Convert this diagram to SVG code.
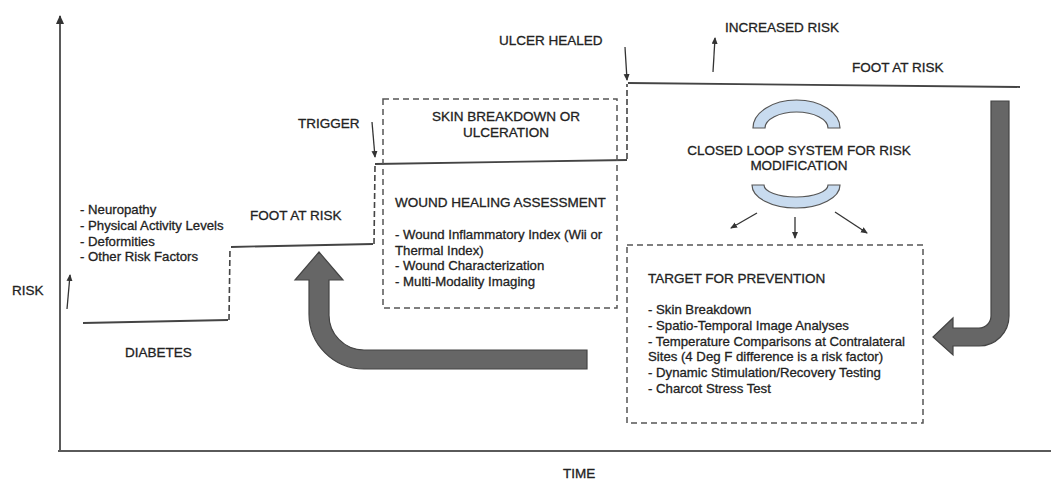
<svg xmlns="http://www.w3.org/2000/svg" width="1051" height="479" viewBox="0 0 1051 479">
<style>
  text { font-family: "Liberation Sans", Arial, sans-serif; fill: #222; stroke: #222; stroke-width: 0.3; }
  .t { font-size: 13.5px; }
  .l { font-size: 13.2px; }
  .axis { stroke: #5a5a5a; stroke-width: 2; fill: none; }
  .step { stroke: #444; stroke-width: 1.8; fill: none; }
  .stepd { stroke: #444; stroke-width: 1.6; fill: none; stroke-dasharray: 6,3; }
  .box { stroke: #555; stroke-width: 1.5; fill: none; stroke-dasharray: 6,4; }
  .thin { stroke: #333; stroke-width: 1.3; fill: none; marker-end: url(#ah); }
  .big { fill: #666; stroke: #444; stroke-width: 1.2; }
  .arc { fill: #c8dbef; stroke: #555; stroke-width: 1.2; }
</style>
<defs>
  <marker id="ah" markerWidth="8" markerHeight="8" refX="6" refY="3" orient="auto" markerUnits="userSpaceOnUse">
    <path d="M0,0 L7,3 L0,6 Z" fill="#333"/>
  </marker>
  <marker id="axh" markerWidth="10" markerHeight="10" refX="8" refY="4" orient="auto" markerUnits="userSpaceOnUse">
    <path d="M0,0 L9,4 L0,8 Z" fill="#333"/>
  </marker>
</defs>
<rect width="1051" height="479" fill="#ffffff"/>

<g id="axes">
  <line class="axis" x1="60" y1="451" x2="60" y2="16" marker-end="url(#axh)"/>
  <line class="axis" x1="58" y1="451" x2="1051" y2="451"/>
  <text class="t" x="12" y="295">RISK</text>
  <text class="t" x="563" y="478">TIME</text>
</g>

<g id="connectors">
  <path class="step" d="M83,323 L228,320"/>
  <path class="stepd" d="M229,320 L230,248"/>
  <path class="step" d="M231,247 L373,244"/>
  <path class="stepd" d="M374,244 L375,166"/>
  <path class="step" d="M375,164 L627,160"/>
  <path class="stepd" d="M627,159 L627,84"/>
  <path class="step" d="M628,83 L1020,87"/>
  <line class="thin" x1="67" y1="309" x2="70" y2="275"/>
  <line class="thin" x1="372" y1="122" x2="375" y2="157"/>
  <line class="thin" x1="625" y1="47" x2="627" y2="80"/>
  <line class="thin" x1="713" y1="72" x2="715" y2="38"/>
  <line class="thin" x1="757" y1="213" x2="731" y2="228"/>
  <line class="thin" x1="795" y1="217" x2="795" y2="238"/>
  <line class="thin" x1="835" y1="212" x2="867" y2="233"/>
  <path class="big" d="M587,350 L364,350 A35,35 0 0 1 329,314 L329,280 L343,280 L319,252 L295,280 L309,280 L309,314 A55,55 0 0 0 364,369 L587,369 Z"/>
  <path class="big" d="M991,101 L1009,101 L1009,316 A30,30 0 0 1 979,346 L953,346 L953,355 L933,337 L953,318 L953,328 L979,328 A12,12 0 0 0 991,316 Z"/>
</g>

<g id="diabetes">
  <text class="t" x="125" y="357">DIABETES</text>
  <text class="l" x="80" y="214">- Neuropathy</text>
  <text class="l" x="80" y="230">- Physical Activity Levels</text>
  <text class="l" x="80" y="246">- Deformities</text>
  <text class="l" x="80" y="261">- Other Risk Factors</text>
</g>

<g id="foot-at-risk-1">
  <text class="t" x="250" y="220">FOOT AT RISK</text>
</g>

<g id="trigger">
  <text class="t" x="298" y="128">TRIGGER</text>
</g>

<g id="ulceration">
  <rect class="box" x="383" y="99" width="234" height="209"/>
  <text class="t" x="506" y="121" text-anchor="middle">SKIN BREAKDOWN OR</text>
  <text class="t" x="506" y="137" text-anchor="middle">ULCERATION</text>
  <text class="t" x="395" y="207">WOUND HEALING ASSESSMENT</text>
  <text class="l" x="395" y="239">- Wound Inflammatory Index (Wii or</text>
  <text class="l" x="395" y="254.7">Thermal Index)</text>
  <text class="l" x="395" y="270.4">- Wound Characterization</text>
  <text class="l" x="395" y="286">- Multi-Modality Imaging</text>
</g>

<g id="ulcer-healed">
  <text class="t" x="499" y="45">ULCER HEALED</text>
</g>

<g id="increased-risk">
  <text class="t" x="725" y="32">INCREASED RISK</text>
</g>

<g id="foot-at-risk-2">
  <text class="t" x="852" y="72">FOOT AT RISK</text>
</g>

<g id="closed-loop">
  <path class="arc" d="M753,128 A43.5,28 0 0 1 840,128 L828,128 A31.5,16 0 0 0 765,128 Z"/>
  <text class="t" x="799" y="155" text-anchor="middle">CLOSED LOOP SYSTEM FOR RISK</text>
  <text class="t" x="799" y="170" text-anchor="middle">MODIFICATION</text>
  <path class="arc" d="M752,185 A44,23 0 0 0 840,185 L828,185 A32,12 0 0 1 764,185 Z"/>
</g>

<g id="target">
  <rect class="box" x="627" y="245" width="296" height="178"/>
  <text class="t" x="648" y="283">TARGET FOR PREVENTION</text>
  <text class="l" x="648" y="314">- Skin Breakdown</text>
  <text class="l" x="648" y="329.8">- Spatio-Temporal Image Analyses</text>
  <text class="l" x="648" y="345.6">- Temperature Comparisons at Contralateral</text>
  <text class="l" x="648" y="361.4">Sites (4 Deg F difference is a risk factor)</text>
  <text class="l" x="648" y="377.2">- Dynamic Stimulation/Recovery Testing</text>
  <text class="l" x="648" y="393">- Charcot Stress Test</text>
</g>
</svg>
